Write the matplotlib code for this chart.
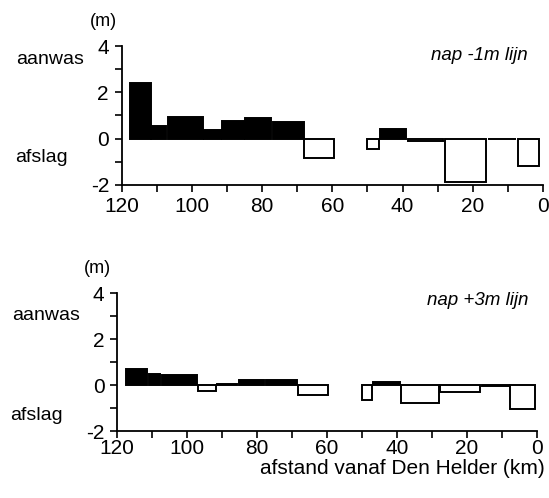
import matplotlib.pyplot as plt
from matplotlib.ticker import MultipleLocator

# bar segments: start km, end km, value (m)
top_start = [117.6, 111.5, 106.9, 96.5, 91.3, 84.7, 77.0, 68.0, 50.0, 46.5, 38.4, 28.0, 15.6, 7.1]
top_end = [111.5, 107.2, 96.9, 91.7, 85.2, 77.5, 68.1, 59.6, 46.7, 38.9, 28.4, 16.1, 7.6, 1.1]
top_vals = [2.4, 0.55, 0.92, 0.37, 0.78, 0.88, 0.72, -0.85, -0.45, 0.4, -0.08, -1.86, -0.03, -1.19]

bot_start = [117.3, 111.0, 107.1, 97.0, 91.4, 85.2, 77.3, 68.3, 50.0, 46.9, 38.8, 27.8, 15.7, 7.6]
bot_end = [111.4, 107.6, 97.1, 91.7, 85.7, 77.9, 68.6, 59.7, 47.1, 39.2, 28.1, 16.2, 8.1, 0.5]
bot_vals = [0.71, 0.5, 0.44, -0.28, 0.04, 0.2, 0.2, -0.42, -0.64, 0.15, -0.77, -0.3, -0.03, -1.03]

plt.rcParams['font.family'] = ['Liberation Sans', 'DejaVu Sans']

W, H = 549, 498
fig = plt.figure(figsize=(W / 100, H / 100), dpi=100)


def px_axes(x0, x1, ytop, ybot):
    return fig.add_axes([x0 / W, 1 - ybot / H, (x1 - x0) / W, (ybot - ytop) / H])


def draw_panel(ax, starts, ends, vals, label, label_y, xpad):
    for s, e, v in zip(starts, ends, vals):
        c = 'black' if v > 0 else 'white'
        ax.bar((s + e) / 2, v, width=s - e, color=c, edgecolor='black', linewidth=1.4)
    ax.set_xlim(120, 0)
    ax.set_ylim(-2, 4)
    ax.xaxis.set_major_locator(MultipleLocator(20))
    ax.xaxis.set_minor_locator(MultipleLocator(10))
    ax.yaxis.set_major_locator(MultipleLocator(2))
    ax.yaxis.set_minor_locator(MultipleLocator(1))
    for sp in ['top', 'right']:
        ax.spines[sp].set_visible(False)
    for sp in ['left', 'bottom']:
        ax.spines[sp].set_linewidth(1.3)
    ax.tick_params(which='both', direction='out', width=1.2, length=5, labelsize=15)
    ax.tick_params(axis='y', pad=4)
    ax.tick_params(axis='x', pad=xpad)
    ax.set_yticks([-2, 0, 2, 4])
    ax.set_yticklabels(['-2', '0', '2', '4'])
    fig.text(528 / W, 1 - label_y / H, label, ha='right', va='center',
             fontsize=13.5, style='italic')


ax1 = px_axes(121.5, 543, 46, 185)
draw_panel(ax1, top_start, top_end, top_vals, 'nap -1m lijn', 55, 4)

ax2 = px_axes(117, 537, 293, 431)
draw_panel(ax2, bot_start, bot_end, bot_vals, 'nap +3m lijn', 300, 0.5)

# side labels
fig.text(103 / W, 1 - 21 / H, '(m)', ha='center', va='center', fontsize=13)
fig.text(50 / W, 1 - 60 / H, 'aanwas', ha='center', va='center', fontsize=14)
fig.text(41 / W, 1 - 158 / H, 'afslag', ha='center', va='center', fontsize=14)

fig.text(97 / W, 1 - 268 / H, '(m)', ha='center', va='center', fontsize=13)
fig.text(46 / W, 1 - 315 / H, 'aanwas', ha='center', va='center', fontsize=14)
fig.text(36 / W, 1 - 415 / H, 'afslag', ha='center', va='center', fontsize=14)

fig.text(545 / W, 1 - 468 / H, 'afstand vanaf Den Helder (km)', ha='right',
         va='center', fontsize=15)

fig.savefig('out.png', dpi=100)
